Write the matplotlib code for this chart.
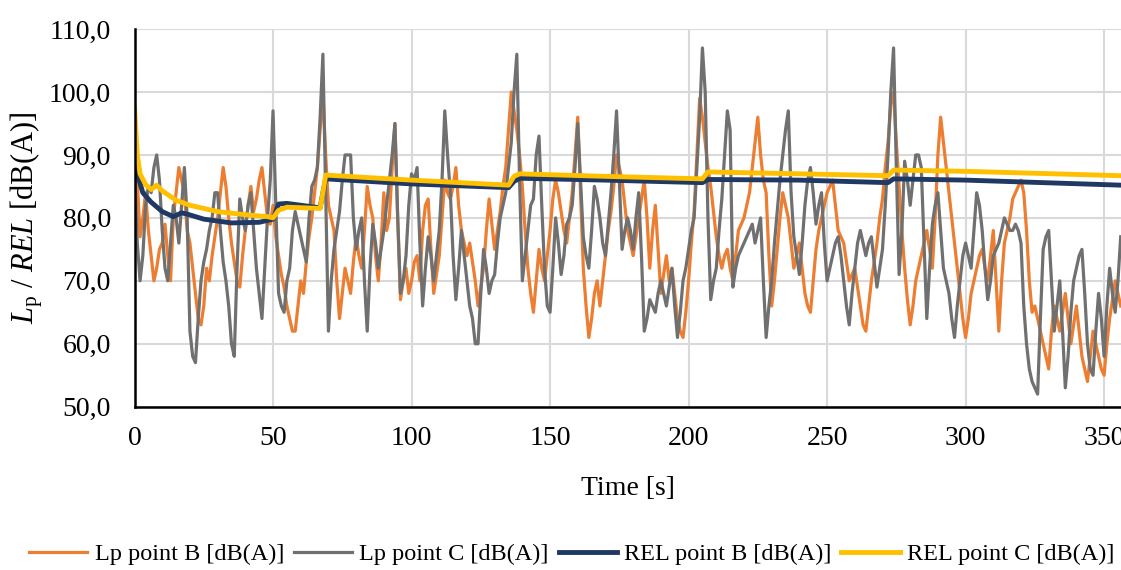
import numpy as np
import matplotlib.pyplot as plt
from matplotlib.ticker import FuncFormatter

# sampling grid of the Lp traces [s]
time_lp = np.arange(0, 357)

lp_point_b = [82, 86, 77, 80, 84, 78, 74, 70, 72, 75,
              76, 79, 74, 70, 80, 84, 88, 86, 84, 78,
              76, 72, 68, 64, 63, 66, 72, 70, 74, 77,
              80, 84, 88, 85, 80, 76, 73, 70, 69, 74,
              78, 82, 85, 81, 83, 86, 88, 84, 80, 79,
              82, 77, 74, 71, 69, 66, 64, 62, 62, 66,
              70, 68, 73, 77, 80, 84, 88, 94, 100, 90,
              82, 80, 78, 70, 64, 68, 72, 70, 68, 73,
              77, 74, 72, 78, 85, 82, 80, 74, 70, 76,
              84, 78, 80, 88, 95, 80, 67, 70, 72, 68,
              70, 73, 74, 70, 78, 82, 83, 75, 68, 71,
              74, 80, 86, 84, 83, 85, 88, 82, 78, 76,
              74, 76, 73, 70, 66, 69, 72, 78, 83, 79,
              75, 78, 81, 85, 88, 94, 100, 97, 94, 90,
              85, 78, 72, 68, 65, 70, 75, 72, 70, 74,
              78, 83, 86, 84, 81, 78, 76, 80, 84, 90,
              96, 84, 72, 66, 61, 64, 68, 70, 66, 70,
              74, 78, 81, 85, 90, 88, 86, 82, 78, 76,
              74, 77, 80, 83, 86, 80, 72, 78, 82, 75,
              68, 71, 74, 70, 72, 68, 64, 62, 61, 65,
              70, 76, 81, 90, 99, 96, 92, 88, 85, 81,
              77, 74, 72, 74, 75, 72, 70, 74, 78, 79,
              80, 82, 84, 88, 92, 96, 90, 86, 84, 74,
              66, 70, 75, 80, 84, 82, 80, 76, 72, 74,
              76, 72, 68, 66, 65, 70, 75, 78, 80, 82,
              84, 85, 86, 82, 78, 77, 76, 73, 70, 71,
              72, 69, 66, 63, 62, 66, 70, 73, 76, 80,
              83, 88, 92, 98, 100, 92, 85, 78, 72, 67,
              63, 66, 70, 72, 74, 76, 78, 75, 72, 80,
              90, 96, 92, 88, 84, 80, 76, 72, 68, 64,
              61, 64, 68, 70, 72, 74, 75, 72, 70, 74,
              78, 70, 62, 70, 76, 78, 80, 83, 84, 85,
              86, 84, 78, 70, 65, 66, 64, 62, 60, 58,
              56, 62, 66, 64, 62, 65, 68, 64, 60, 63,
              66, 62, 58, 56, 54, 58, 62, 60, 58, 56,
              55, 60, 64, 67, 70, 68, 66]

lp_point_c = [88, 76, 70, 74, 82, 85, 84, 88, 90, 86,
              78, 72, 70, 76, 82, 80, 76, 82, 88, 80,
              62, 58, 57, 64, 70, 73, 75, 78, 80, 84,
              84, 78, 73, 70, 66, 60, 58, 72, 83, 80,
              78, 82, 84, 78, 72, 68, 64, 72, 80, 86,
              97, 82, 68, 66, 65, 70, 72, 78, 81, 79,
              77, 75, 73, 80, 85, 86, 88, 96, 106, 84,
              62, 70, 75, 78, 81, 86, 90, 90, 90, 80,
              75, 78, 80, 70, 62, 72, 79, 76, 72, 75,
              78, 82, 86, 90, 95, 80, 68, 70, 74, 82,
              87, 86, 88, 76, 66, 72, 77, 74, 70, 74,
              78, 86, 97, 90, 84, 74, 67, 72, 78, 74,
              70, 66, 64, 60, 60, 68, 75, 72, 68, 70,
              71, 76, 80, 82, 84, 88, 92, 100, 106, 86,
              70, 74, 78, 82, 83, 90, 93, 82, 72, 66,
              65, 72, 80, 76, 71, 74, 79, 80, 82, 88,
              95, 86, 77, 74, 72, 78, 85, 83, 80, 76,
              74, 79, 84, 90, 97, 86, 75, 78, 80, 78,
              75, 80, 84, 74, 62, 64, 67, 66, 65, 68,
              70, 68, 66, 69, 72, 66, 61, 65, 70, 72,
              75, 78, 80, 88, 96, 107, 100, 80, 67, 70,
              72, 78, 83, 90, 97, 94, 69, 72, 74, 75,
              76, 77, 78, 79, 76, 78, 80, 70, 61, 66,
              70, 76, 81, 86, 90, 94, 97, 84, 77, 74,
              71, 76, 82, 86, 88, 84, 79, 82, 84, 76,
              70, 72, 74, 76, 77, 74, 70, 66, 63, 68,
              72, 76, 78, 76, 74, 76, 77, 73, 69, 72,
              75, 82, 90, 100, 107, 88, 71, 78, 89, 86,
              82, 86, 90, 90, 88, 76, 64, 72, 79, 82,
              84, 78, 72, 70, 68, 64, 61, 66, 70, 74,
              76, 74, 72, 78, 84, 82, 78, 72, 67, 70,
              74, 75, 76, 78, 80, 79, 78, 78, 79, 78,
              76, 66, 60, 56, 54, 53, 52, 64, 75, 77,
              78, 70, 62, 66, 70, 62, 53, 58, 65, 70,
              72, 74, 75, 68, 60, 56, 55, 62, 68, 64,
              58, 66, 72, 68, 65, 70, 77]

# REL curves (smooth), read at the visible breakpoints
time_rel_b = [0, 1, 3, 6, 10, 14, 17, 19, 25, 35, 45, 50, 52, 55, 67, 68, 69, 100, 135, 137,
              139, 170, 205, 207, 240, 272, 274, 300, 356]
rel_point_b = [92, 87, 84, 82.5, 81, 80.2, 80.8, 80.6, 79.8, 79.2, 79.3, 79.8, 82.2, 82.3,
               81.6, 84, 86.2, 85.4, 84.8, 85.8, 86.3, 86.0, 85.6, 86.1, 86.0, 85.6, 86.2,
               86.0, 85.2]

time_rel_c = [0, 1, 2, 4, 6, 8, 10, 15, 20, 30, 40, 48, 50, 52, 55, 67, 68, 69, 100, 135,
              137, 139, 170, 205, 207, 240, 272, 274, 300, 356]
rel_point_c = [97.5, 90, 87, 85.3, 84.5, 85.2, 84.3, 82.8, 82, 81, 80.5, 80.2, 80.0, 81.2,
               81.7, 81.5, 84, 86.8, 86.0, 85.2, 86.6, 87.0, 86.6, 86.2, 87.3, 87.0, 86.7,
               87.6, 87.4, 86.7]

plt.rcParams['font.family'] = ['Liberation Serif', 'DejaVu Serif']
plt.rcParams['mathtext.fontset'] = 'custom'
plt.rcParams['mathtext.rm'] = 'Liberation Serif'
plt.rcParams['mathtext.it'] = 'Liberation Serif:italic'

fig = plt.figure(figsize=(11.21, 5.70), dpi=100)
ax = fig.add_axes([0.12, 0.2865, 0.88, 0.6625])

ax.plot(time_lp, lp_point_b, color='#ED7D31', lw=2.3, label='Lp point B [dB(A)]')
ax.plot(time_lp, lp_point_c, color='#707070', lw=2.3, label='Lp point C [dB(A)]')
ax.plot(time_rel_b, rel_point_b, color='#1F3864', lw=3.5, label='REL point B [dB(A)]')
ax.plot(time_rel_c, rel_point_c, color='#FFC000', lw=3.5, label='REL point C [dB(A)]')

ax.set_xlim(0, 356.1)
ax.set_ylim(50, 110)
ax.set_xticks(range(0, 351, 50))
ax.set_yticks(range(50, 111, 10))
ax.yaxis.set_major_formatter(FuncFormatter(lambda v, p: f'{v:.1f}'.replace('.', ',')))
ax.tick_params(length=0, labelsize=20)
ax.tick_params(axis='y', pad=17)
ax.tick_params(axis='x', pad=14)
ax.grid(True, color='#d9d9d9', lw=1.5)
ax.set_axisbelow(True)
for side in ['top', 'right']:
    ax.spines[side].set_visible(False)
for side in ['left', 'bottom']:
    ax.spines[side].set_color('black')
    ax.spines[side].set_linewidth(1.8)

ax.set_xlabel('Time [s]', fontsize=20, labelpad=18)
ax.set_ylabel(r'$L_\mathrm{p}$ / $REL$ [dB(A)]', fontsize=22, labelpad=3)

leg_handles, leg_labels = ax.get_legend_handles_labels()
leg = fig.legend(leg_handles, leg_labels, loc='lower center', bbox_to_anchor=(0.51, -0.03),
                 ncol=4, frameon=False, fontsize=17.5, handlelength=2.4,
                 columnspacing=0.4, handletextpad=0.3)

fig.savefig('out.png', dpi=100)
